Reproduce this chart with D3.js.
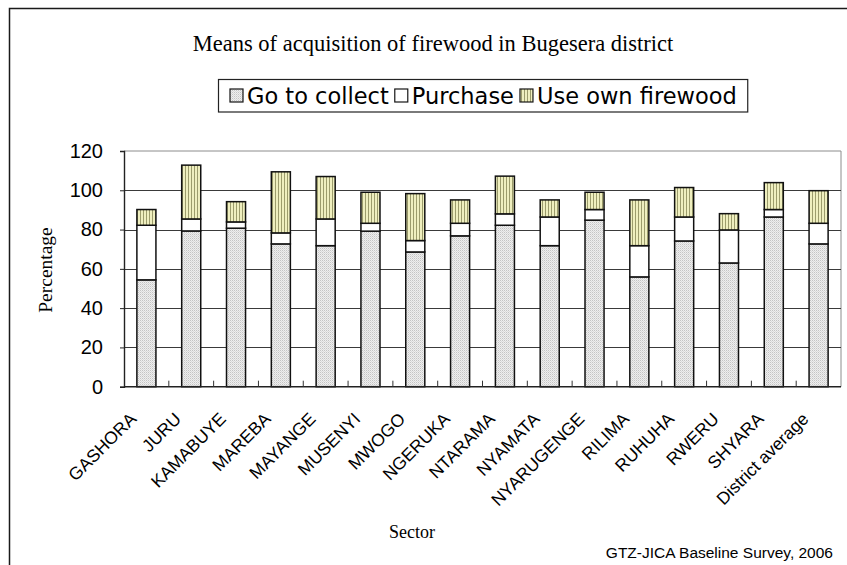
<!DOCTYPE html>
<html>
<head>
<meta charset="utf-8">
<script src="https://cdn.jsdelivr.net/npm/d3@7"></script>
<style>
  html, body { margin: 0; padding: 0; background: #fff; }
  svg { display: block; }
</style>
</head>
<body>
<svg id="chart" width="847" height="565"></svg>
<script>
// Sectors of Bugesera district plus the district average
const categories = ["GASHORA", "JURU", "KAMABUYE", "MAREBA", "MAYANGE", "MUSENYI", "MWOGO",
  "NGERUKA", "NTARAMA", "NYAMATA", "NYARUGENGE", "RILIMA", "RUHUHA", "RWERU", "SHYARA",
  "District average"];

// Percentage of households by means of acquisition
const goToCollect = [54.4, 79.3, 80.7, 72.7, 71.8, 79.2, 68.6, 76.8, 82.2, 71.8, 84.8, 55.9, 74.2, 63.0, 86.4, 72.7];
const purchase    = [27.8, 6.1, 3.2, 5.6, 13.6, 4.0, 5.8, 6.4, 5.8, 14.6, 5.4, 15.9, 12.2, 16.8, 3.8, 10.5];
const useOwn      = [8.0, 27.4, 10.3, 31.1, 21.6, 15.8, 23.9, 11.9, 19.2, 8.7, 8.8, 23.3, 15.0, 8.3, 13.7, 16.6];

const seriesNames = ["Go to collect", "Purchase", "Use own firewood"];
const yTicks = [0, 20, 40, 60, 80, 100, 120];

const svg = d3.select("#chart");
const sans = "'Liberation Sans', Arial, sans-serif";
const wideSans = "'DejaVu Sans', Verdana, sans-serif";
const serif = "'Liberation Serif', 'Times New Roman', serif";

// Fill patterns: stippled grey, plain white, vertical olive stripes
const defs = svg.append("defs");
const dots = defs.append("pattern").attr("id", "pat-collect")
  .attr("width", 2).attr("height", 2).attr("patternUnits", "userSpaceOnUse");
dots.append("rect").attr("width", 2).attr("height", 2).attr("fill", "#eeeeee");
dots.append("rect").attr("width", 1).attr("height", 1).attr("fill", "#c4c4c4");
dots.append("rect").attr("x", 1).attr("y", 1).attr("width", 1).attr("height", 1).attr("fill", "#dadada");

const stripes = defs.append("pattern").attr("id", "pat-own")
  .attr("width", 3).attr("height", 3).attr("patternUnits", "userSpaceOnUse");
stripes.append("rect").attr("width", 3).attr("height", 3).attr("fill", "#efefbf");
stripes.append("rect").attr("x", 2).attr("width", 1).attr("height", 3).attr("fill", "#9c9c6c");

const fills = ["url(#pat-collect)", "#ffffff", "url(#pat-own)"];

// Outer chart frame
svg.append("rect")
  .attr("x", 9.5).attr("y", 8.5).attr("width", 900).attr("height", 700)
  .attr("fill", "none").attr("stroke", "#1a1a1a").attr("stroke-width", 1.5);

// Plot area
const plot = { left: 124, right: 841, top: 151, bottom: 386.7 };

const x = d3.scaleBand()
  .domain(categories)
  .range([plot.left, plot.right])
  .paddingInner(0.575)
  .paddingOuter(0.2875);

const y = d3.scaleLinear().domain([0, 120]).range([plot.bottom, plot.top]);

// Plot border (top and right)
svg.append("path")
  .attr("d", `M${plot.left},${plot.top}H${plot.right}V${plot.bottom}`)
  .attr("fill", "none").attr("stroke", "#8c8c8c").attr("stroke-width", 1);

// Gridlines
svg.append("g")
  .selectAll("line")
  .data(yTicks.filter(t => t > 0 && t < 120))
  .join("line")
  .attr("x1", plot.left).attr("x2", plot.right)
  .attr("y1", d => Math.round(y(d)) + 0.5).attr("y2", d => Math.round(y(d)) + 0.5)
  .attr("stroke", "#3a3a3a").attr("stroke-width", 1);

// Stacked bars
const rows = categories.map((c, i) => ({
  sector: c,
  "Go to collect": goToCollect[i],
  "Purchase": purchase[i],
  "Use own firewood": useOwn[i]
}));
const stacked = d3.stack().keys(seriesNames)(rows);

svg.append("g")
  .selectAll("g")
  .data(stacked)
  .join("g")
  .attr("fill", (d, i) => fills[i])
  .selectAll("rect")
  .data(d => d)
  .join("rect")
  .attr("x", d => x(d.data.sector))
  .attr("y", d => y(d[1]))
  .attr("width", x.bandwidth())
  .attr("height", d => y(d[0]) - y(d[1]))
  .attr("stroke", "#111")
  .attr("stroke-width", 1.5);

// Y axis
const yAxis = d3.axisLeft(y).tickValues(yTicks).tickSize(4).tickPadding(17);
const gy = svg.append("g").attr("transform", `translate(${plot.left},0)`).call(yAxis);
gy.select(".domain").attr("stroke", "#222").attr("stroke-width", 1.4);
gy.selectAll(".tick line").attr("stroke", "#222");
gy.selectAll(".tick text")
  .attr("font-family", sans).attr("font-size", 20).attr("fill", "#000");

// X axis: ticks between categories, pointing inward
const boundaries = d3.range(categories.length + 1).map(i => plot.left + i * x.step());
const gx = svg.append("g");
gx.append("line")
  .attr("x1", plot.left).attr("x2", plot.right)
  .attr("y1", plot.bottom).attr("y2", plot.bottom)
  .attr("stroke", "#222").attr("stroke-width", 1.4);
gx.selectAll("line.tk")
  .data(boundaries.slice(1, -1))
  .join("line").attr("class", "tk")
  .attr("x1", d => d).attr("x2", d => d)
  .attr("y1", plot.bottom).attr("y2", plot.bottom - 6)
  .attr("stroke", "#333").attr("stroke-width", 1);

// Category labels rotated 45 degrees
svg.append("g")
  .selectAll("text")
  .data(categories)
  .join("text")
  .attr("transform", d => `translate(${x(d) + x.bandwidth() / 2 - 9},${420}) rotate(-45)`)
  .attr("text-anchor", "end")
  .attr("font-family", sans).attr("font-size", 17.5)
  .text(d => d);

// Title
svg.append("text")
  .attr("x", 433).attr("y", 51)
  .attr("text-anchor", "middle")
  .attr("font-family", serif).attr("font-size", 22.5)
  .text("Means of acquisition of firewood in Bugesera district");

// Axis titles
svg.append("text")
  .attr("transform", "translate(52,270) rotate(-90)")
  .attr("text-anchor", "middle")
  .attr("font-family", serif).attr("font-size", 19.5)
  .text("Percentage");

svg.append("text")
  .attr("x", 412).attr("y", 538)
  .attr("text-anchor", "middle")
  .attr("font-family", serif).attr("font-size", 18)
  .text("Sector");

// Source note
svg.append("text")
  .attr("x", 833).attr("y", 558)
  .attr("text-anchor", "end")
  .attr("font-family", sans).attr("font-size", 15.5)
  .text("GTZ-JICA Baseline Survey, 2006");

// Legend
const legend = svg.append("g");
const legendBox = legend.append("rect")
  .attr("fill", "#fff").attr("stroke", "#222").attr("stroke-width", 1.2);
let cursor = 230;
const legendY = 96;
seriesNames.forEach((name, i) => {
  legend.append("rect")
    .attr("x", cursor).attr("y", legendY - 7)
    .attr("width", 13).attr("height", 13)
    .attr("fill", fills[i]).attr("stroke", "#151515").attr("stroke-width", 1.2);
  const t = legend.append("text")
    .attr("x", cursor + 17).attr("y", legendY + 7.5)
    .attr("font-family", wideSans).attr("font-size", 22.5)
    .text(name);
  cursor += 17 + t.node().getComputedTextLength() + 6;
});
legendBox.attr("x", 218.5).attr("y", 79.5)
  .attr("width", cursor + 5 - 218.5).attr("height", 32.5);
</script>
</body>
</html>
